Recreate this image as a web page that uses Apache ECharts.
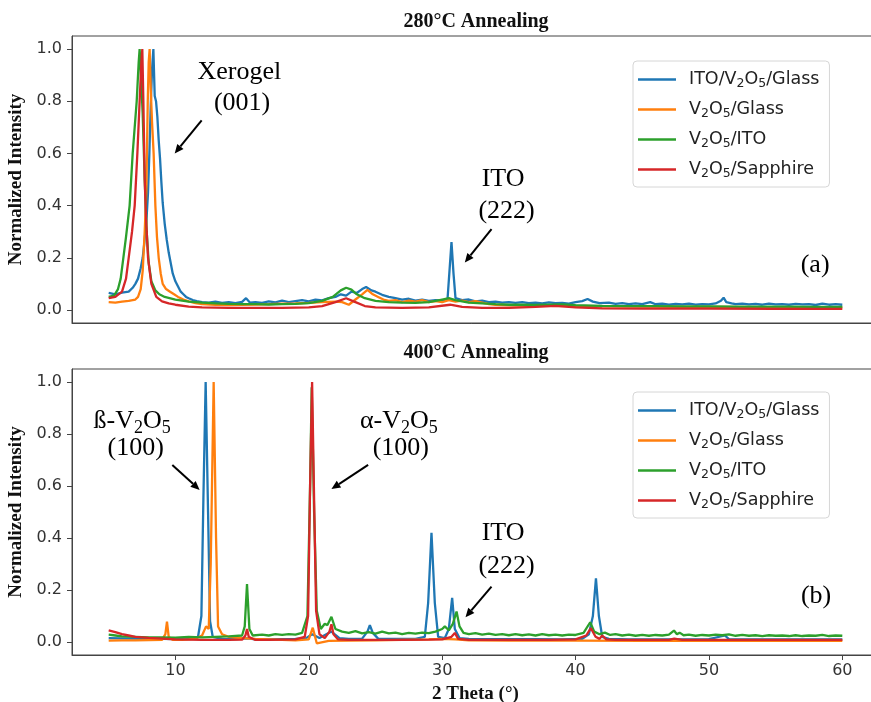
<!DOCTYPE html>
<html>
<head>
<meta charset="utf-8">
<script src="https://cdn.jsdelivr.net/npm/echarts@6/dist/echarts.min.js"></script>
<style>
  html, body { margin: 0; padding: 0; background: #fff; }
  #chart { width: 871px; height: 702px; }
</style>
</head>
<body>
<div id="chart"></div>
<script>
// 样品名称
const sampleNames = ['ITO/V2O5/Glass', 'V2O5/Glass', 'V2O5/ITO', 'V2O5/Sapphire'];
const sampleLabels = ['{n|ITO/V}{s|2}{n|O}{s|5}{n|/Glass}', '{n|V}{s|2}{n|O}{s|5}{n|/Glass}', '{n|V}{s|2}{n|O}{s|5}{n|/ITO}', '{n|V}{s|2}{n|O}{s|5}{n|/Sapphire}'];
const sampleColors = ['#1f77b4', '#ff7f0e', '#2ca02c', '#d62728'];
const yTicks = [0, 0.2, 0.4, 0.6, 0.8, 1.0];
const xTicks = [10, 20, 30, 40, 50, 60];

// 280°C 退火
const blue280 = [[5,0.065],[5.5,0.06],[6,0.066],[6.5,0.07],[6.8,0.085],[7.0,0.1],[7.2,0.12],[7.4,0.16],[7.55,0.2],[7.7,0.27],[7.85,0.36],[7.95,0.45],[8.05,0.6],[8.15,0.78],[8.25,0.92],[8.35,1.0],[8.45,0.82],[8.55,0.8],[8.65,0.74],[8.75,0.65],[8.85,0.58],[8.95,0.49],[9.05,0.41],[9.2,0.33],[9.35,0.27],[9.5,0.22],[9.65,0.18],[9.8,0.14],[10.0,0.11],[10.2,0.09],[10.4,0.07],[10.6,0.06],[10.8,0.05],[11.0,0.045],[11.3,0.038],[11.6,0.034],[12,0.03],[12.5,0.028],[13,0.032],[13.5,0.027],[14,0.03],[14.5,0.026],[15,0.031],[15.3,0.045],[15.6,0.028],[16,0.03],[16.5,0.027],[17,0.033],[17.5,0.029],[18,0.036],[18.5,0.03],[19,0.034],[19.5,0.038],[20,0.033],[20.5,0.04],[21,0.037],[21.5,0.045],[22,0.05],[22.4,0.06],[22.8,0.055],[23.2,0.07],[23.6,0.065],[24,0.08],[24.3,0.088],[24.7,0.075],[25,0.07],[25.5,0.058],[26,0.05],[26.5,0.045],[27,0.04],[27.5,0.043],[28,0.036],[28.5,0.04],[29,0.035],[29.5,0.038],[30,0.036],[30.4,0.04],[30.55,0.15],[30.7,0.26],[30.85,0.14],[31,0.045],[31.5,0.038],[32,0.04],[32.5,0.033],[33,0.036],[33.5,0.03],[34,0.032],[34.5,0.028],[35,0.03],[35.5,0.027],[36,0.03],[36.5,0.026],[37,0.028],[37.5,0.025],[38,0.029],[38.5,0.026],[39,0.027],[39.5,0.024],[40,0.03],[40.5,0.034],[40.9,0.042],[41.3,0.032],[41.8,0.026],[42.5,0.028],[43,0.023],[43.5,0.026],[44,0.022],[44.5,0.025],[45,0.022],[45.6,0.03],[46,0.022],[46.5,0.024],[47,0.02],[47.5,0.023],[48,0.021],[48.5,0.024],[49,0.02],[49.5,0.022],[50,0.021],[50.5,0.025],[50.9,0.035],[51.1,0.047],[51.3,0.03],[51.7,0.025],[52,0.022],[52.5,0.024],[53,0.021],[53.5,0.023],[54,0.02],[54.5,0.024],[55,0.021],[55.5,0.022],[56,0.02],[56.5,0.023],[57,0.021],[57.5,0.022],[58,0.019],[58.5,0.024],[59,0.02],[59.5,0.022],[60,0.02]];
const orange280 = [[5,0.03],[5.5,0.028],[6,0.032],[6.5,0.035],[7,0.04],[7.2,0.05],[7.4,0.08],[7.55,0.15],[7.7,0.3],[7.82,0.45],[7.93,0.8],[8.0,0.95],[8.07,1.0],[8.15,0.85],[8.25,0.72],[8.37,0.6],[8.5,0.4],[8.62,0.28],[8.75,0.2],[8.9,0.14],[9.05,0.1],[9.3,0.08],[9.6,0.07],[9.9,0.06],[10.2,0.05],[10.6,0.04],[11,0.033],[11.5,0.026],[12,0.022],[13,0.02],[14,0.019],[15,0.02],[16,0.021],[17,0.022],[18,0.024],[19,0.025],[20,0.027],[21,0.03],[22,0.032],[22.5,0.03],[23,0.02],[23.5,0.04],[24,0.06],[24.4,0.077],[24.8,0.06],[25.2,0.05],[25.6,0.04],[26,0.035],[26.5,0.038],[27,0.03],[27.5,0.036],[28,0.032],[28.5,0.038],[29,0.03],[29.5,0.034],[30,0.03],[30.5,0.038],[31,0.032],[31.5,0.036],[32,0.03],[32.5,0.034],[33,0.028],[33.5,0.022],[34,0.02],[35,0.018],[36,0.017],[38,0.016],[40,0.015],[42,0.014],[45,0.013],[48,0.012],[51,0.012],[54,0.011],[57,0.011],[60,0.01]];
const green280 = [[5,0.05],[5.4,0.055],[5.7,0.08],[5.9,0.12],[6.1,0.2],[6.3,0.28],[6.57,0.4],[6.8,0.6],[7.1,0.8],[7.25,0.95],[7.32,1.0],[7.42,0.9],[7.55,0.75],[7.7,0.5],[7.85,0.3],[8.0,0.18],[8.2,0.11],[8.5,0.075],[8.8,0.06],[9.2,0.05],[10,0.04],[11,0.032],[12,0.028],[13,0.025],[14,0.023],[15,0.022],[16,0.022],[17,0.021],[18,0.022],[19,0.023],[20,0.026],[21,0.035],[21.8,0.05],[22.4,0.075],[22.8,0.085],[23.2,0.078],[23.6,0.06],[24.2,0.045],[25,0.035],[26,0.03],[27,0.028],[28,0.027],[29,0.03],[30,0.04],[30.5,0.045],[31,0.038],[32,0.028],[33,0.025],[34,0.022],[35,0.02],[36,0.02],[37,0.019],[38,0.02],[39,0.021],[40,0.018],[42,0.016],[44,0.015],[46,0.015],[48,0.014],[50,0.014],[52,0.013],[54,0.013],[56,0.013],[58,0.012],[60,0.012]];
const red280 = [[5,0.045],[5.5,0.05],[6,0.07],[6.3,0.12],[6.5,0.2],[6.75,0.3],[6.95,0.4],[7.15,0.6],[7.32,0.8],[7.45,0.95],[7.52,1.0],[7.6,0.8],[7.7,0.5],[7.8,0.35],[7.95,0.2],[8.2,0.1],[8.57,0.05],[9,0.033],[9.5,0.025],[10,0.02],[11,0.013],[12,0.01],[14,0.008],[16,0.008],[18,0.008],[20,0.01],[21,0.015],[22,0.03],[22.8,0.045],[23.5,0.03],[24.2,0.015],[25,0.01],[27,0.008],[29,0.01],[30.6,0.02],[31.5,0.012],[33,0.008],[35,0.008],[37,0.012],[38.5,0.016],[40,0.01],[42,0.006],[45,0.005],[50,0.005],[55,0.004],[60,0.004]];

// 400°C 退火
const blue400 = [[5,0.015],[6,0.014],[7,0.013],[8,0.012],[9,0.012],[10,0.011],[11,0.012],[11.7,0.02],[11.95,0.1],[12.1,0.55],[12.27,1.0],[12.45,0.5],[12.6,0.08],[12.8,0.02],[13.5,0.012],[14.5,0.011],[15.4,0.014],[16,0.01],[17,0.01],[18,0.011],[19,0.012],[19.8,0.015],[20.25,0.03],[20.8,0.015],[21.7,0.04],[22.3,0.015],[23,0.012],[24,0.013],[24.4,0.04],[24.58,0.065],[24.8,0.035],[25.2,0.013],[26,0.012],[27,0.012],[28,0.012],[28.7,0.02],[28.95,0.15],[29.2,0.42],[29.45,0.15],[29.7,0.02],[30.2,0.015],[30.5,0.05],[30.75,0.17],[30.95,0.05],[31.3,0.015],[32,0.012],[33,0.011],[35,0.011],[37,0.011],[39,0.01],[40.5,0.012],[41.0,0.03],[41.3,0.1],[41.53,0.245],[41.75,0.1],[42.0,0.02],[42.5,0.012],[44,0.01],[46,0.01],[48,0.01],[50,0.011],[51.2,0.025],[51.5,0.011],[53,0.01],[55,0.01],[57,0.01],[60,0.01]];
const orange400 = [[5,0.005],[6,0.006],[7,0.006],[8,0.007],[9,0.008],[9.25,0.03],[9.37,0.078],[9.5,0.02],[9.8,0.008],[10.5,0.008],[11,0.01],[11.5,0.013],[12,0.025],[12.3,0.06],[12.5,0.05],[12.65,0.3],[12.87,1.0],[13.05,0.4],[13.2,0.06],[13.5,0.03],[14,0.02],[14.5,0.017],[15,0.015],[16,0.012],[17,0.01],[18,0.008],[19,0.006],[20,0.01],[20.3,0.055],[20.6,-0.005],[21.5,0.004],[23,0.005],[25,0.006],[27,0.008],[29,0.01],[30,0.012],[31,0.01],[32,0.006],[35,0.005],[40,0.005],[45,0.004],[50,0.004],[55,0.004],[60,0.004]];
const green400 = [[5,0.028],[5.5,0.025],[6,0.022],[7,0.02],[8,0.018],[9,0.018],[10,0.017],[11,0.02],[12,0.018],[13,0.02],[14,0.022],[15,0.025],[15.2,0.06],[15.37,0.223],[15.55,0.05],[15.8,0.025],[16.5,0.028],[17,0.025],[17.5,0.03],[18,0.027],[18.5,0.03],[19,0.028],[19.5,0.035],[19.9,0.1],[20.1,0.6],[20.22,0.98],[20.4,0.5],[20.6,0.12],[20.9,0.05],[21.2,0.07],[21.4,0.065],[21.7,0.097],[22.0,0.05],[22.5,0.04],[23,0.035],[23.5,0.042],[24,0.033],[24.5,0.038],[25,0.032],[25.5,0.04],[26,0.033],[26.5,0.036],[27,0.03],[27.5,0.035],[28,0.032],[28.5,0.036],[29,0.034],[29.5,0.04],[30,0.05],[30.2,0.06],[30.5,0.045],[30.8,0.07],[31.08,0.117],[31.3,0.06],[31.6,0.035],[32,0.03],[32.5,0.034],[33,0.028],[33.5,0.032],[34,0.027],[34.5,0.03],[35,0.026],[35.5,0.03],[36,0.026],[36.5,0.029],[37,0.025],[37.5,0.03],[38,0.026],[38.5,0.028],[39,0.025],[39.5,0.028],[40,0.027],[40.6,0.035],[41.1,0.076],[41.4,0.04],[41.8,0.03],[42.2,0.036],[42.6,0.027],[43,0.03],[43.5,0.025],[44,0.028],[44.5,0.024],[45,0.027],[45.5,0.024],[46,0.027],[46.5,0.025],[47,0.028],[47.38,0.044],[47.6,0.03],[47.8,0.036],[48.1,0.026],[48.5,0.028],[49,0.024],[49.5,0.027],[50,0.025],[50.5,0.028],[51,0.026],[51.5,0.029],[52,0.024],[52.5,0.027],[53,0.024],[53.5,0.026],[54,0.023],[54.5,0.026],[55,0.024],[55.5,0.025],[56,0.023],[56.5,0.026],[57,0.023],[57.5,0.025],[58,0.024],[58.5,0.027],[59,0.023],[59.5,0.025],[60,0.024]];
const red400 = [[5,0.045],[5.5,0.038],[6,0.03],[6.5,0.025],[7,0.02],[8,0.016],[9,0.013],[10,0.01],[11,0.009],[12,0.008],[13,0.008],[14,0.008],[15,0.009],[15.25,0.025],[15.37,0.05],[15.5,0.02],[16,0.008],[17,0.008],[18,0.009],[19,0.01],[19.7,0.02],[19.95,0.1],[20.1,0.6],[20.25,1.0],[20.4,0.55],[20.55,0.12],[20.8,0.03],[21.2,0.015],[21.55,0.04],[21.7,0.068],[21.85,0.03],[22.2,0.01],[23,0.008],[25,0.008],[27,0.008],[29,0.009],[30,0.01],[30.7,0.02],[30.95,0.035],[31.2,0.012],[32,0.008],[34,0.008],[36,0.008],[38,0.008],[40,0.01],[40.8,0.025],[41.15,0.053],[41.5,0.02],[41.8,0.012],[42.0,0.025],[42.3,0.01],[43,0.008],[45,0.008],[47,0.008],[47.4,0.013],[48,0.008],[50,0.008],[52,0.008],[54,0.008],[56,0.008],[58,0.008],[60,0.008]];

const data280 = [blue280, orange280, green280, red280];
const data400 = [blue400, orange400, green400, red400];

// 标注（数据坐标）
const notes = [
  { grid: 0, at: [14.8, 0.913], text: '{t|Xerogel}' },
  { grid: 0, at: [15.0, 0.793], text: '{t|(001)}' },
  { grid: 0, at: [34.57, 0.503], text: '{t|ITO}' },
  { grid: 0, at: [34.83, 0.378], text: '{t|(222)}' },
  { grid: 0, at: [57.96, 0.173], text: '{t|(a)}' },
  { grid: 1, at: [6.76, 0.85], text: '{t|ß-V}{s|2}{t|O}{s|5}' },
  { grid: 1, at: [7.02, 0.745], text: '{t|(100)}' },
  { grid: 1, at: [26.75, 0.85], text: '{t|α-V}{s|2}{t|O}{s|5}' },
  { grid: 1, at: [26.9, 0.745], text: '{t|(100)}' },
  { grid: 1, at: [34.57, 0.42], text: '{t|ITO}' },
  { grid: 1, at: [34.83, 0.29], text: '{t|(222)}' },
  { grid: 1, at: [58.03, 0.175], text: '{t|(b)}' }
];
const arrows = [
  { grid: 0, from: [11.97, 0.727], to: [9.95, 0.6] },
  { grid: 0, from: [33.7, 0.31], to: [31.7, 0.182] },
  { grid: 1, from: [9.77, 0.681], to: [11.82, 0.585] },
  { grid: 1, from: [24.45, 0.681], to: [21.7, 0.588] },
  { grid: 1, from: [33.7, 0.213], to: [31.75, 0.095] }
];

const serif = "'Liberation Serif', 'Times New Roman', serif";
const sans = "'DejaVu Sans', sans-serif";
const frameColor = '#444';

function yAxisOf(gridIndex) {
  return {
    type: 'value',
    gridIndex: gridIndex,
    min: -0.05,
    max: 1.05,
    name: 'Normalized Intensity',
    nameLocation: 'middle',
    nameGap: 44,
    nameTextStyle: { fontFamily: serif, fontWeight: 'bold', fontSize: 19, color: '#111' },
    splitLine: { show: false },
    axisLine: { show: true, lineStyle: { color: frameColor, width: 1 } },
    axisTick: { show: true, length: 5, customValues: yTicks, lineStyle: { color: frameColor } },
    axisLabel: {
      customValues: yTicks,
      margin: 10,
      fontFamily: sans,
      fontSize: 16,
      color: '#333',
      formatter: v => v.toFixed(1)
    }
  };
}

function xAxisOf(gridIndex, withLabels) {
  return {
    type: 'value',
    gridIndex: gridIndex,
    min: 2.25,
    max: 62.75,
    splitLine: { show: false },
    axisLine: { show: true, onZero: false, lineStyle: { color: frameColor, width: 1 } },
    axisTick: { show: withLabels, length: 5, customValues: xTicks, lineStyle: { color: frameColor } },
    axisLabel: {
      show: withLabels,
      customValues: xTicks,
      margin: 8,
      fontFamily: sans,
      fontSize: 16,
      color: '#333'
    },
    name: withLabels ? '2 Theta (°)' : '',
    nameLocation: 'middle',
    nameGap: 30,
    nameTextStyle: { fontFamily: serif, fontWeight: 'bold', fontSize: 19, color: '#111' }
  };
}

function legendOf(top) {
  return {
    data: sampleNames,
    orient: 'vertical',
    left: 633,
    top: top,
    padding: [8, 10, 7, 5],
    itemGap: 9,
    itemWidth: 38,
    itemHeight: 2.5,
    icon: 'rect',
    backgroundColor: 'rgba(255,255,255,0.85)',
    borderColor: '#d6d6d6',
    borderWidth: 1,
    borderRadius: 4,
    selectedMode: false,
    formatter: name => sampleLabels[sampleNames.indexOf(name)],
    textStyle: {
      padding: [0, 0, 0, 8],
      rich: {
        n: { fontFamily: sans, fontSize: 17.5, color: '#222', lineHeight: 19 },
        s: { fontFamily: sans, fontSize: 12.5, color: '#222', lineHeight: 10, padding: [8, 0, 0, 0] }
      }
    }
  };
}

const series = [];
[data280, data400].forEach((set, gi) => {
  set.forEach((points, i) => {
    series.push({
      name: sampleNames[i],
      type: 'line',
      xAxisIndex: gi,
      yAxisIndex: gi,
      data: points,
      showSymbol: false,
      symbol: 'none',
      color: sampleColors[i],
      lineStyle: { width: 2.3, color: sampleColors[i] },
      z: 2 + i
    });
  });
});

const chart = echarts.init(document.getElementById('chart'), null, { renderer: 'canvas' });

chart.setOption({
  animation: false,
  backgroundColor: '#fff',
  grid: [
    { left: 72, top: 36, width: 807, height: 287, show: true, borderColor: frameColor, borderWidth: 1, outerBoundsMode: 'none', containLabel: false },
    { left: 72, top: 369, width: 807, height: 286, show: true, borderColor: frameColor, borderWidth: 1, outerBoundsMode: 'none', containLabel: false }
  ],
  xAxis: [xAxisOf(0, false), xAxisOf(1, true)],
  yAxis: [yAxisOf(0), yAxisOf(1)],
  legend: [legendOf(61), legendOf(392)],
  series: series
});

// 标题、标注和箭头
const graphics = [
  { type: 'text', style: { text: '280°C Annealing', x: 476, y: 22, align: 'center', verticalAlign: 'middle', font: 'bold 20px ' + serif, fill: '#111' } },
  { type: 'text', style: { text: '400°C Annealing', x: 476, y: 353, align: 'center', verticalAlign: 'middle', font: 'bold 20px ' + serif, fill: '#111' } }
];

notes.forEach(n => {
  const p = chart.convertToPixel({ gridIndex: n.grid }, n.at);
  graphics.push({
    type: 'text',
    z: 100,
    style: {
      text: n.text,
      x: p[0],
      y: p[1],
      align: 'center',
      verticalAlign: 'middle',
      rich: {
        t: { fontFamily: serif, fontSize: 26, color: '#111', lineHeight: 30 },
        s: { fontFamily: serif, fontSize: 18, color: '#111', lineHeight: 18, padding: [14, 0, 0, 0] }
      }
    }
  });
});

arrows.forEach(a => {
  const p0 = chart.convertToPixel({ gridIndex: a.grid }, a.from);
  const p1 = chart.convertToPixel({ gridIndex: a.grid }, a.to);
  const dx = p1[0] - p0[0], dy = p1[1] - p0[1];
  const len = Math.sqrt(dx * dx + dy * dy);
  const ux = dx / len, uy = dy / len;
  const headLen = 9, headW = 4;
  const bx = p1[0] - ux * headLen, by = p1[1] - uy * headLen;
  graphics.push({
    type: 'line', z: 100,
    shape: { x1: p0[0], y1: p0[1], x2: bx, y2: by },
    style: { stroke: '#000', lineWidth: 2 }
  });
  graphics.push({
    type: 'polygon', z: 100,
    shape: { points: [[p1[0], p1[1]], [bx - uy * headW, by + ux * headW], [bx + uy * headW, by - ux * headW]] },
    style: { fill: '#000' }
  });
});

chart.setOption({ graphic: graphics });
</script>
</body>
</html>
